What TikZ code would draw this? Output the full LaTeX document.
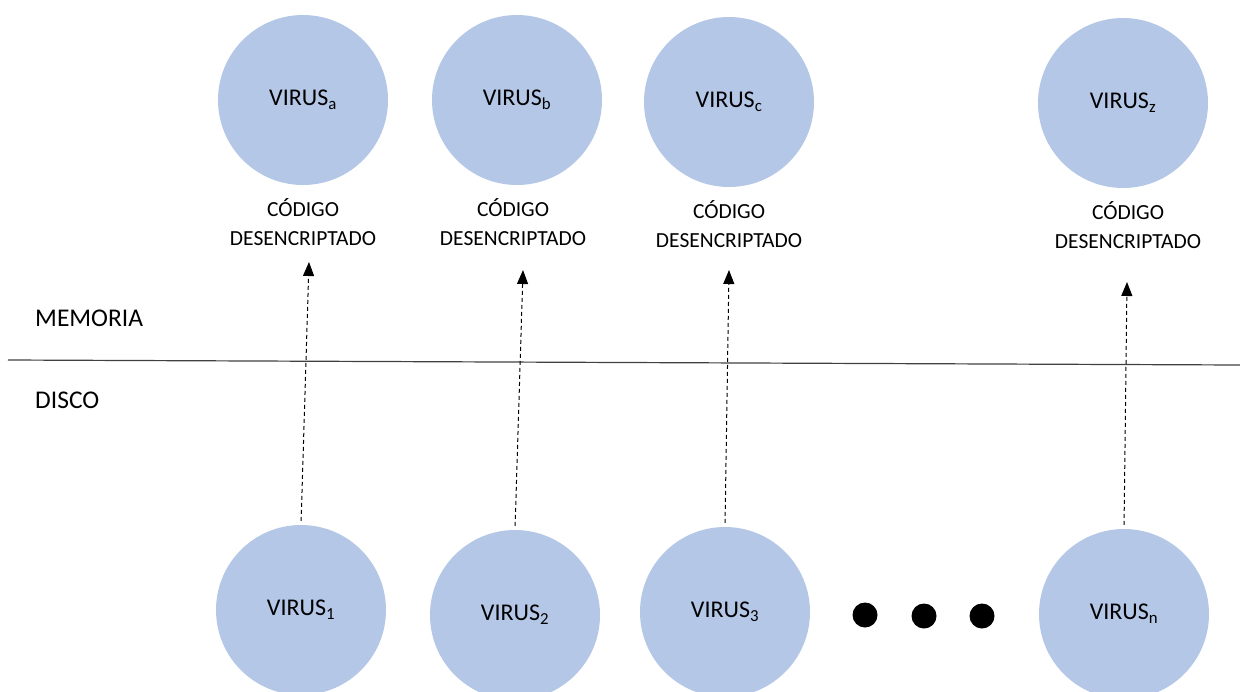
\documentclass[tikz,border=0pt]{standalone}
\usepackage{fontspec}
\setmainfont{Carlito}
\usetikzlibrary{positioning,arrows.meta}
\definecolor{virusblue}{HTML}{B4C7E7}
\tikzset{virus/.style = {circle,fill=virusblue,minimum size=170pt,inner sep=0pt,font=\fontsize{24}{28}\selectfont}}
\tikzset{code/.style = {align=center,inner sep=0pt,font=\fontsize{21.5}{29}\selectfont}}
\tikzset{side/.style = {anchor=west,inner sep=0pt,font=\fontsize{25.5}{30}\selectfont}}
\tikzset{arrow/.style = {-{Triangle[width=11pt,length=14pt]},dash pattern=on 4pt off 3pt,line width=1pt,shorten <=4pt}}
\tikzset{dot/.style = {circle,fill=black,minimum size=25pt,inner sep=0pt}}

\begin{document}
\begin{tikzpicture}[x=1pt,y=-1pt]
		\useasboundingbox (0,0) rectangle (1240,691);
		% memoria
		\node[virus] (va) at (303,100) {VIRUS\textsubscript{a}};
		\node[virus] (vb) at (517,100) {VIRUS\textsubscript{b}};
		\node[virus] (vc) at (729,102) {VIRUS\textsubscript{c}};
		\node[virus] (vz) at (1123,103) {VIRUS\textsubscript{z}};
		\node[code, below=13pt of va] (ca) {CÓDIGO\\DESENCRIPTADO};
		\node[code, below=13pt of vb, xshift=-4pt] (cb) {CÓDIGO\\DESENCRIPTADO};
		\node[code, below=13pt of vc] (cc) {CÓDIGO\\DESENCRIPTADO};
		\node[code, below=13pt of vz, xshift=5pt] (cz) {CÓDIGO\\DESENCRIPTADO};
		\coordinate (ta) at (309,262);
		\coordinate (tb) at (523,270);
		\coordinate (tc) at (729,270);
		\coordinate (tz) at (1127,282);
		% separacion
		\node[side] (mem) at (35,318) {MEMORIA};
		\node[side] (dis) at (35,400) {DISCO};
		\coordinate (l1) at (8,360);
		\coordinate (l2) at (1240,365);
		\draw[line width=1.2pt,black!75] (l1) -- (l2);
		% disco
		\node[virus] (v1) at (301,610) {VIRUS\textsubscript{1}};
		\node[virus] (v2) at (515,615) {VIRUS\textsubscript{2}};
		\node[virus] (v3) at (725,612) {VIRUS\textsubscript{3}};
		\node[virus] (vn) at (1124,614) {VIRUS\textsubscript{n}};
		\node[dot] (d1) at (865,615) {};
		\node[dot] (d2) at (924,616) {};
		\node[dot] (d3) at (982,616) {};
		\draw[arrow] (v1.north) -- (ta);
		\draw[arrow] (v2.north) -- (tb);
		\draw[arrow] (v3.north) -- (tc);
		\draw[arrow] (vn.north) -- (tz);
	\end{tikzpicture}
\end{document}
